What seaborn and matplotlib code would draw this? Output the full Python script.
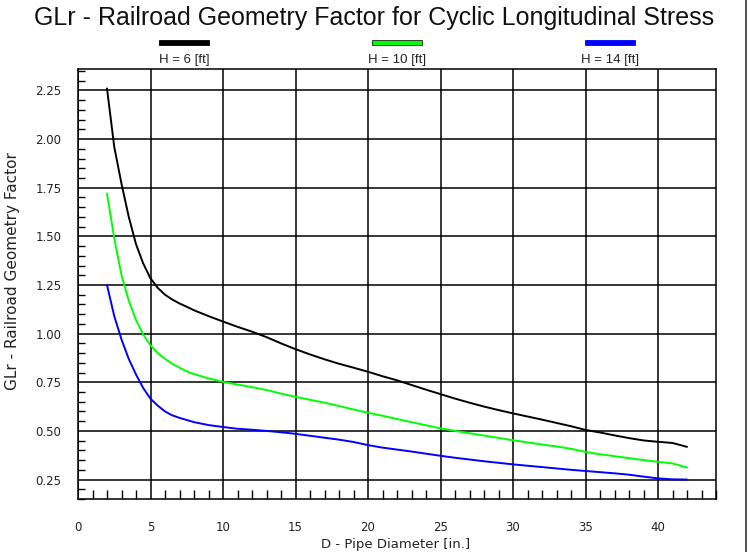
import pandas as pd
import seaborn as sns
import matplotlib.pyplot as plt
from matplotlib.patches import Rectangle
from matplotlib.lines import Line2D
from matplotlib.ticker import MultipleLocator

# pipe diameter [in.]
diameter = [2, 2.5, 3, 3.5, 4, 4.5, 5, 5.5, 6, 6.5, 7, 7.5, 8, 9, 10, 11, 12, 13, 14, 15,
            16, 17, 18, 19, 20, 21, 22, 23, 24, 25, 26, 27, 28, 29, 30, 31, 32, 33, 34, 35,
            36, 37, 38, 39, 40, 41, 42]

glr_h6 = [2.26, 1.96, 1.77, 1.60, 1.46, 1.36, 1.284, 1.235, 1.20, 1.175, 1.155, 1.138, 1.12,
          1.09, 1.062, 1.035, 1.01, 0.982, 0.95, 0.92, 0.893, 0.868, 0.845, 0.825, 0.804,
          0.781, 0.76, 0.736, 0.712, 0.689, 0.666, 0.645, 0.625, 0.607, 0.590, 0.574, 0.558,
          0.541, 0.524, 0.505, 0.492, 0.477, 0.463, 0.451, 0.444, 0.438, 0.418]

glr_h10 = [1.72, 1.49, 1.30, 1.17, 1.07, 0.995, 0.94, 0.90, 0.87, 0.845, 0.825, 0.806, 0.792,
           0.77, 0.752, 0.738, 0.725, 0.71, 0.692, 0.675, 0.66, 0.645, 0.628, 0.61, 0.593,
           0.578, 0.561, 0.545, 0.529, 0.513, 0.5, 0.488, 0.476, 0.464, 0.452, 0.441, 0.43,
           0.42, 0.408, 0.392, 0.38, 0.37, 0.36, 0.35, 0.341, 0.333, 0.312]

glr_h14 = [1.25, 1.09, 0.97, 0.87, 0.79, 0.72, 0.665, 0.63, 0.60, 0.58, 0.567, 0.556, 0.545,
           0.53, 0.52, 0.511, 0.506, 0.50, 0.493, 0.485, 0.475, 0.465, 0.455, 0.443, 0.427,
           0.414, 0.404, 0.394, 0.383, 0.372, 0.362, 0.353, 0.344, 0.336, 0.328, 0.321, 0.314,
           0.307, 0.30, 0.294, 0.288, 0.282, 0.275, 0.265, 0.256, 0.251, 0.25]

series_names = ['H = 6 [ft]', 'H = 10 [ft]', 'H = 14 [ft]']
series_colors = ['#000000', '#00ff00', '#0000ff']

frames = []
for name, vals in zip(series_names, [glr_h6, glr_h10, glr_h14]):
    frames.append(pd.DataFrame({'D': diameter, 'GLr': vals, 'H': name}))
df = pd.concat(frames, ignore_index=True)

sns.set_theme(style='white')
plt.rcParams['font.family'] = ['DejaVu Sans']

fig = plt.figure(figsize=(7.49, 5.52), dpi=100)
ax = fig.add_axes([78 / 749, 53 / 552, 638 / 749, 430 / 552])

sns.lineplot(data=df, x='D', y='GLr', hue='H', palette=dict(zip(series_names, series_colors)),
             linewidth=1.4, legend=False, ax=ax)

ax.set_xlim(0, 44)
ax.set_ylim(0.15, 2.36)
ax.xaxis.set_major_locator(MultipleLocator(5))
ax.xaxis.set_minor_locator(MultipleLocator(1))
ax.yaxis.set_minor_locator(MultipleLocator(0.05))
ax.set_yticks([0.25, 0.5, 0.75, 1.0, 1.25, 1.5, 1.75, 2.0, 2.25])
ax.set_yticklabels(['0.25', '0.50', '0.75', '1.00', '1.25', '1.50', '1.75', '2.00', '2.25'])

ax.grid(True, which='major', color='black', linewidth=1.1)
for s in ax.spines.values():
    s.set_color('black')
    s.set_linewidth(1.1)

ax.tick_params(axis='x', which='major', direction='out', length=8.6, width=1.1,
               color='black', pad=7, labelsize=8.5, labelcolor='#222222')
ax.tick_params(axis='y', which='major', direction='out', length=10.8, width=1.1,
               color='black', pad=1, labelsize=8.5, labelcolor='#222222')
ax.tick_params(axis='x', which='minor', direction='in', length=6.5, width=1, color='black',
               bottom=True)
ax.tick_params(axis='y', which='minor', direction='in', length=4.8, width=1, color='black',
               left=True)

ax.set_xlabel('D - Pipe Diameter [in.]', fontsize=9.5, va='center', color='#222222')
ax.set_ylabel('GLr - Railroad Geometry Factor', fontsize=11, va='center', color='#222222')
ax.xaxis.set_label_coords(0.498, -0.105)
ax.yaxis.set_label_coords(-0.103, 0.53)

fig.text(0.5, 1 - 18 / 552, 'GLr - Railroad Geometry Factor for Cyclic Longitudinal Stress',
         ha='center', va='center', fontsize=18, family='Liberation Sans', color='#111111')

# legend: colour bar above each label
for i, (name, col) in enumerate(zip(series_names, series_colors)):
    cx = (78 + 638 * (1 / 6 + i / 3)) / 749
    fig.add_artist(Rectangle((cx - 25 / 749, 1 - 45 / 552), 50 / 749, 5 / 552,
                             transform=fig.transFigure, facecolor=col,
                             edgecolor='#222222' if col == '#00ff00' else col, linewidth=0.6))
    fig.text(cx, 1 - 60 / 552, name, ha='center', va='center', fontsize=9.5,
             family='Liberation Sans', color='#222222')

fig.add_artist(Line2D([0.996, 0.996], [0, 1], transform=fig.transFigure, color='#333333',
                      linewidth=1.2))

fig.savefig('out.png', dpi=100)
